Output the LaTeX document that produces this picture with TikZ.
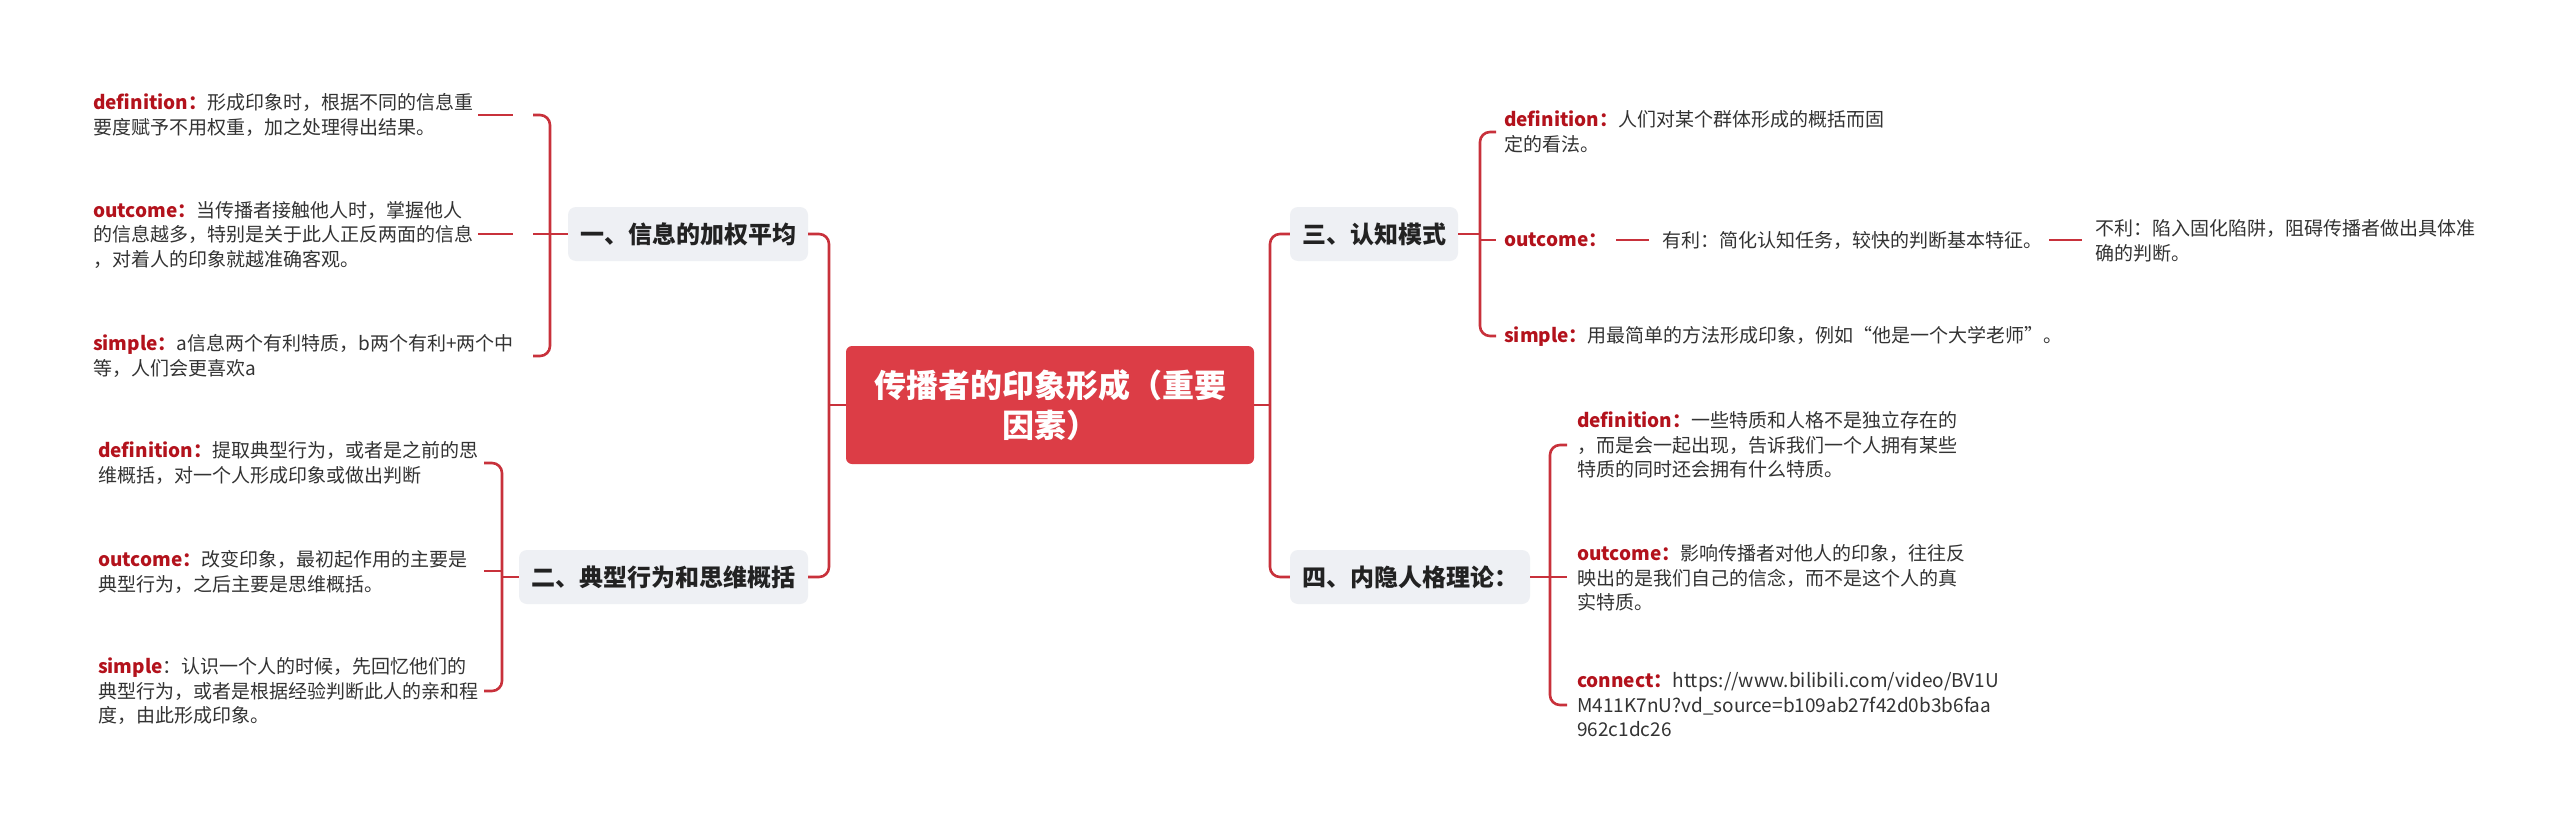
\documentclass[tikz,border=0pt]{standalone}
\usepackage{fontspec}
\setmainfont{Noto Sans CJK SC}
\definecolor{rootred}{HTML}{DC3D46}
\definecolor{connred}{HTML}{C8313B}
\definecolor{labred}{HTML}{B3121C}
\definecolor{branchgray}{HTML}{EEF0F4}
\definecolor{txt}{HTML}{333333}
\definecolor{btxt}{HTML}{222222}
\newcommand{\lab}[1]{\textcolor{labred}{\textbf{#1}}}
\begin{document}
\begin{tikzpicture}[x=1pt,y=-1pt,
  conn/.style={draw=connred, line width=2.6pt, rounded corners=10pt},
  leaf/.style={anchor=west, inner sep=0pt, align=left, text=txt, font=\fontsize{19}{24.5}\selectfont},
  branch/.style={fill=branchgray, rounded corners=8pt, minimum height=54pt, inner xsep=12pt, text=btxt, font=\bfseries\fontsize{24}{28}\selectfont},
  root/.style={fill=rootred, rounded corners=6pt, minimum width=408pt, minimum height=118pt, align=center, text=white, font=\bfseries\fontsize{32}{40}\selectfont}]
\useasboundingbox (0,0) rectangle (2560,835);
\fill[white] (0,0) rectangle (2560,835);

% root and branches
\node[root] (root) at (1050,405) {传播者的印象形成（重要\\因素）};
\node[branch, minimum width=240pt] (b1) at (688,234) {一、信息的加权平均};
\node[branch, minimum width=289pt] (b2) at (663.5,577) {二、典型行为和思维概括};
\node[branch, minimum width=168pt] (b3) at (1374,234) {三、认知模式};
\node[branch, minimum width=240pt] (b4) at (1410,577) {四、内隐人格理论：};

\coordinate (jl) at (829,405);
\coordinate (jr) at (1270,405);
\draw[conn] (root.west) -- (jl);
\draw[conn] (b1.east) -| (jl) |- (b2.east);
\draw[conn] (root.east) -- (jr);
\draw[conn] (b3.west) -| (jr) |- (b4.west);

% branch 1 leaves
\node[leaf] (l1a) at (93,115) {\lab{definition：}形成印象时，根据不同的信息重\\要度赋予不用权重，加之处理得出结果。};
\node[leaf] (l1b) at (93,235) {\lab{outcome：}当传播者接触他人时，掌握他人\\的信息越多，特别是关于此人正反两面的信息\\，对着人的印象就越准确客观。};
\node[leaf] (l1c) at (93,356) {\lab{simple：}a信息两个有利特质，b两个有利+两个中\\等，人们会更喜欢a};
\coordinate (t1) at (533,115);
\coordinate (v1) at (550,234);
\coordinate (e1) at (533,356);
\coordinate (m1) at (533,234);
\coordinate (s1a) at (478,115);
\coordinate (s1aa) at (513,115);
\coordinate (s1b) at (478,234);
\coordinate (s1bb) at (513,234);
\draw[conn] (t1) -| (v1) |- (e1);
\draw[conn] (m1) -- (b1.west);
\draw[conn] (s1a) -- (s1aa);
\draw[conn] (s1b) -- (s1bb);

% branch 2 leaves
\node[leaf] (l2a) at (98,463) {\lab{definition：}提取典型行为，或者是之前的思\\维概括，对一个人形成印象或做出判断};
\node[leaf] (l2b) at (98,572) {\lab{outcome：}改变印象，最初起作用的主要是\\典型行为，之后主要是思维概括。};
\node[leaf] (l2c) at (98,691) {\lab{simple}：认识一个人的时候，先回忆他们的\\典型行为，或者是根据经验判断此人的亲和程\\度，由此形成印象。};
\coordinate (t2) at (484,463);
\coordinate (v2) at (502,577);
\coordinate (e2) at (484,691);
\coordinate (s2b) at (484,571);
\coordinate (s2bb) at (502,571);
\draw[conn] (t2) -| (v2) |- (e2);
\draw[conn] (s2b) -- (s2bb);
\draw[conn] (v2) -- (b2.west);

% branch 3 leaves
\node[leaf] (l3a) at (1504,132) {\lab{definition：}人们对某个群体形成的概括而固\\定的看法。};
\node[leaf] (l3b) at (1504,240) {\lab{outcome：}};
\node[leaf] (l3y) at (1662,240) {有利：简化认知任务，较快的判断基本特征。};
\node[leaf] (l3n) at (2095,241) {不利：陷入固化陷阱，阻碍传播者做出具体准\\确的判断。};
\node[leaf] (l3c) at (1504,336) {\lab{simple：}用最简单的方法形成印象，例如“他是一个大学老师”。};
\coordinate (t3) at (1496,132);
\coordinate (v3) at (1480,240);
\coordinate (e3) at (1496,336);
\coordinate (m3) at (1480,234);
\coordinate (s3b) at (1496,240);
\draw[conn] (t3) -| (v3) |- (e3);
\draw[conn] (b3.east) -- (m3);
\draw[conn] (v3) -- (s3b);
\coordinate (s3y) at (1616,240);
\coordinate (s3yy) at (1649,240);
\coordinate (s3n) at (2049,240);
\coordinate (s3nn) at (2082,240);
\draw[conn] (s3y) -- (s3yy);
\draw[conn] (s3n) -- (s3nn);

% branch 4 leaves
\node[leaf] (l4a) at (1577,445) {\lab{definition：}一些特质和人格不是独立存在的\\，而是会一起出现，告诉我们一个人拥有某些\\特质的同时还会拥有什么特质。};
\node[leaf] (l4b) at (1577,578) {\lab{outcome：}影响传播者对他人的印象，往往反\\映出的是我们自己的信念，而不是这个人的真\\实特质。};
\node[leaf] (l4c) at (1577,705) {\lab{connect：}https://www.bilibili.com/video/BV1U\\M411K7nU?vd\_source=b109ab27f42d0b3b6faa\\962c1dc26};
\coordinate (t4) at (1567,445);
\coordinate (v4) at (1550,577);
\coordinate (e4) at (1567,705);
\coordinate (m4) at (1567,577);
\draw[conn] (t4) -| (v4) |- (e4);
\draw[conn] (b4.east) -- (m4);
\end{tikzpicture}
\end{document}
